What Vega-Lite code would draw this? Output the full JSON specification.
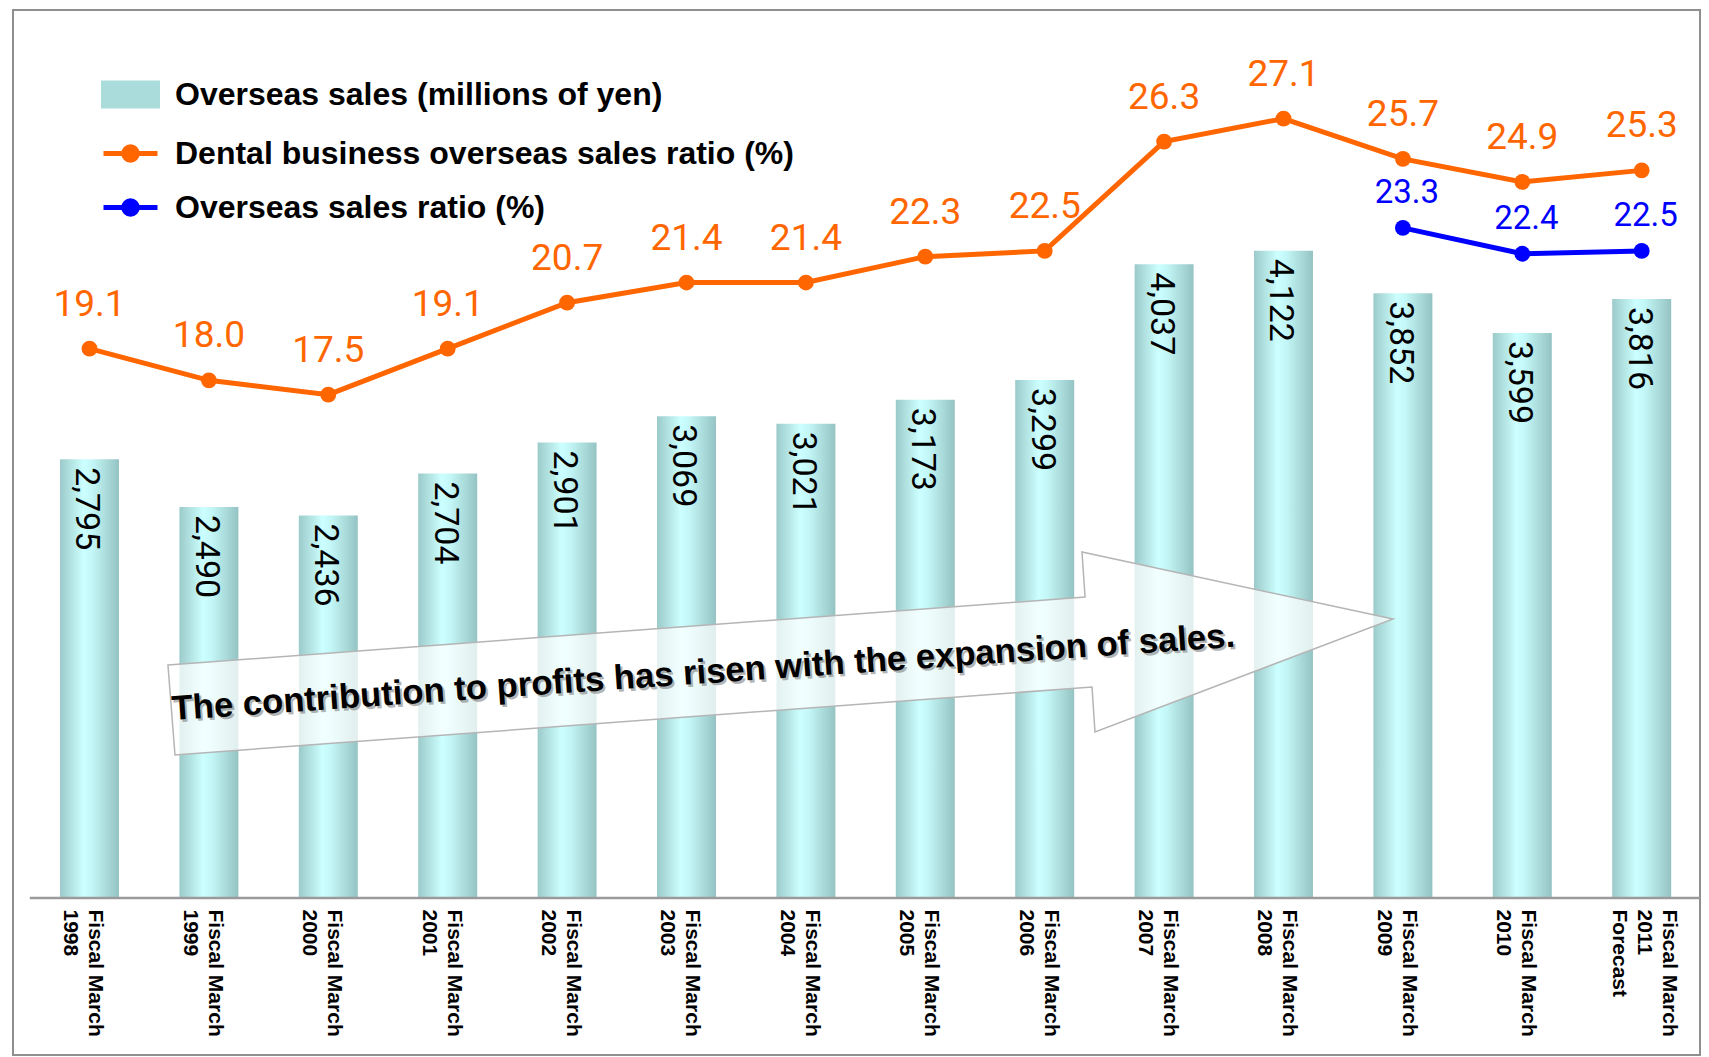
{
  "$schema": "https://vega.github.io/schema/vega-lite/v6.json",
  "width": 1687,
  "height": 1045,
  "padding": {"left": 13, "top": 10, "right": 9, "bottom": 2},
  "background": "white",
  "config": {"view": {"stroke": "#8f8f8f", "strokeWidth": 2}},
  "datasets": {
    "main": [
      {"period": "Fiscal March|1998", "sales": 2795, "dental": 19.1, "overseas": null},
      {"period": "Fiscal March|1999", "sales": 2490, "dental": 18.0, "overseas": null},
      {"period": "Fiscal March|2000", "sales": 2436, "dental": 17.5, "overseas": null},
      {"period": "Fiscal March|2001", "sales": 2704, "dental": 19.1, "overseas": null},
      {"period": "Fiscal March|2002", "sales": 2901, "dental": 20.7, "overseas": null},
      {"period": "Fiscal March|2003", "sales": 3069, "dental": 21.4, "overseas": null},
      {"period": "Fiscal March|2004", "sales": 3021, "dental": 21.4, "overseas": null},
      {"period": "Fiscal March|2005", "sales": 3173, "dental": 22.3, "overseas": null},
      {"period": "Fiscal March|2006", "sales": 3299, "dental": 22.5, "overseas": null},
      {"period": "Fiscal March|2007", "sales": 4037, "dental": 26.3, "overseas": null},
      {"period": "Fiscal March|2008", "sales": 4122, "dental": 27.1, "overseas": null},
      {"period": "Fiscal March|2009", "sales": 3852, "dental": 25.7, "overseas": 23.3},
      {"period": "Fiscal March|2010", "sales": 3599, "dental": 24.9, "overseas": 22.4},
      {"period": "Fiscal March|2011|Forecast", "sales": 3816, "dental": 25.3, "overseas": 22.5}
    ],
    "arrow": [
      {"order": 1, "x": 0.657, "y": 1484},
      {"order": 2, "x": 8.338, "y": 1917},
      {"order": 3, "x": 8.312, "y": 2204},
      {"order": 4, "x": 10.917, "y": 1777},
      {"order": 5, "x": 8.421, "y": 1057},
      {"order": 6, "x": 8.396, "y": 1344},
      {"order": 7, "x": 0.716, "y": 911}
    ],
    "note": [
      {"x": 5.147, "y": 1367, "text": "The contribution to profits has risen with the expansion of sales."}
    ]
  },
  "layer": [
    {
      "data": {"name": "main"},
      "resolve": {"scale": {"y": "independent"}},
      "layer": [
        {
          "mark": {"type": "bar", "color": {"gradient": "linear", "x1": 0, "y1": 0, "x2": 1, "y2": 0, "stops": [{"offset": 0, "color": "#9ccaca"}, {"offset": 0.4, "color": "#ccffff"}, {"offset": 0.55, "color": "#c3f6f6"}, {"offset": 1, "color": "#95c3c3"}]}},
          "encoding": {
            "x": {"field": "period", "type": "nominal", "scale": {"paddingInner": 0.506, "paddingOuter": 0.3175, "align": 0.62, "round": false},
              "axis": {"title": null, "domain": false, "ticks": false, "grid": false, "labelAngle": 90, "labelAlign": "left", "labelBaseline": "middle", "labelPadding": 11,
                "labelOffset": {"condition": {"test": "indexof(datum.value, 'Forecast') >= 0", "value": 27}, "value": 6},
                "labelFont": "Liberation Sans", "labelFontSize": 21, "labelFontWeight": "bold", "labelColor": "black", "labelLineHeight": 25, "labelLimit": 0, "labelOverlap": false, "offset": -157, "labelExpr": "split(datum.value, '|')"}},
            "y": {"field": "sales", "type": "quantitative", "scale": {"domain": [-1000, 5656], "nice": false, "zero": false}, "axis": null}
          }
        },
        {
          "mark": {"type": "text", "angle": 90, "align": "left", "baseline": "middle", "dx": 8, "dy": 3, "font": "Roboto", "fontSize": 34, "color": "black"},
          "encoding": {
            "x": {"field": "period", "type": "nominal"},
            "y": {"field": "sales", "type": "quantitative", "scale": {"domain": [-1000, 5656], "nice": false, "zero": false}, "axis": null},
            "text": {"field": "sales", "type": "quantitative", "format": ",d"}
          }
        },
        {
          "mark": {"type": "line", "strokeWidth": 5, "point": {"filled": true, "size": 250}},
          "encoding": {
            "x": {"field": "period", "type": "nominal"},
            "y": {"field": "dental", "type": "quantitative", "scale": {"domain": [-5.459, 30.876], "nice": false, "zero": false}, "axis": null},
            "color": {"datum": "Dental business overseas sales ratio (%)",
              "scale": {"domain": ["Overseas sales (millions of yen)", "Dental business overseas sales ratio (%)", "Overseas sales ratio (%)"], "range": ["#aadcdc", "#FF6600", "#0000FF"]},
              "legend": {
                "orient": "none", "legendX": 88, "legendY": 55, "title": null, "padding": 0,
                "symbolSize": 2916, "symbolStrokeWidth": 5,
                "labelFont": "Liberation Sans", "labelFontSize": 32, "labelFontWeight": "bold", "labelColor": "black", "labelLimit": 0, "labelOffset": 15, "rowPadding": 7,
                "encode": {
                  "symbols": {
                    "update": {
                      "shape": {"signal": "datum.value === 'Overseas sales (millions of yen)' ? 'M-1,-0.43H1V0.43H-1Z' : 'M-1,0H1M-0.25,0A0.25,0.25,0,1,0,0.25,0A0.25,0.25,0,1,0,-0.25,0Z'"},
                      "fill": {"signal": "datum.value === 'Overseas sales (millions of yen)' ? {gradient: 'linear', x1: 0, y1: 0, x2: 1, y2: 0, stops: [{offset: 0, color: '#9ccaca'}, {offset: 0.4, color: '#ccffff'}, {offset: 0.55, color: '#c3f6f6'}, {offset: 1, color: '#95c3c3'}]} : scale('color', datum.value)"},
                      "stroke": {"signal": "datum.value === 'Overseas sales (millions of yen)' ? 'transparent' : scale('color', datum.value)"},
                      "strokeWidth": {"value": 5},
                      "opacity": {"value": 1}
                    }
                  }
                }
              }
            }
          }
        },
        {
          "transform": [{"filter": "datum.overseas != null"}],
          "mark": {"type": "line", "strokeWidth": 5, "point": {"filled": true, "size": 250}},
          "encoding": {
            "x": {"field": "period", "type": "nominal"},
            "y": {"field": "overseas", "type": "quantitative", "scale": {"domain": [-5.459, 30.876], "nice": false, "zero": false}, "axis": null},
            "color": {"datum": "Overseas sales ratio (%)"}
          }
        },
        {
          "mark": {"type": "text", "align": "center", "baseline": "alphabetic", "dy": -33, "font": "Roboto", "fontSize": 37, "color": "#FF6600"},
          "encoding": {
            "x": {"field": "period", "type": "nominal"},
            "y": {"field": "dental", "type": "quantitative", "scale": {"domain": [-5.459, 30.876], "nice": false, "zero": false}, "axis": null},
            "text": {"field": "dental", "type": "quantitative", "format": ".1f"}
          }
        },
        {
          "transform": [{"filter": "datum.overseas != null"}],
          "mark": {"type": "text", "align": "center", "baseline": "alphabetic", "dx": 4, "dy": -25, "font": "Roboto", "fontSize": 33, "color": "#0000FF"},
          "encoding": {
            "x": {"field": "period", "type": "nominal"},
            "y": {"field": "overseas", "type": "quantitative", "scale": {"domain": [-5.459, 30.876], "nice": false, "zero": false}, "axis": null},
            "text": {"field": "overseas", "type": "quantitative", "format": ".1f"}
          }
        }
      ]
    },
    {
      "layer": [
        {
          "data": {"name": "arrow"},
          "mark": {"type": "line", "interpolate": "linear-closed", "fill": "white", "fillOpacity": 0.72, "stroke": "#b5b5b5", "strokeWidth": 1.5},
          "encoding": {
            "x": {"field": "x", "type": "quantitative", "scale": {"domain": [-0.6407, 13.488], "nice": false, "zero": false}, "axis": null},
            "y": {"field": "y", "type": "quantitative", "scale": {"domain": [-1000, 5656], "nice": false, "zero": false}, "axis": null},
            "order": {"field": "order", "type": "quantitative"}
          }
        },
        {
          "data": {"name": "note"},
          "mark": {"type": "text", "angle": -3.95, "align": "center", "baseline": "alphabetic", "dx": 2, "dy": 2.5, "font": "Liberation Sans", "fontWeight": "bold", "fontSize": 34.7, "color": "#777777", "opacity": 0.55},
          "encoding": {
            "x": {"field": "x", "type": "quantitative"},
            "y": {"field": "y", "type": "quantitative"},
            "text": {"field": "text", "type": "nominal"}
          }
        },
        {
          "data": {"name": "note"},
          "mark": {"type": "text", "angle": -3.95, "align": "center", "baseline": "alphabetic", "font": "Liberation Sans", "fontWeight": "bold", "fontSize": 34.7, "color": "black"},
          "encoding": {
            "x": {"field": "x", "type": "quantitative"},
            "y": {"field": "y", "type": "quantitative"},
            "text": {"field": "text", "type": "nominal"}
          }
        },
        {
          "data": {"values": [{}]},
          "mark": {"type": "rule", "color": "#9a9a9a", "strokeWidth": 2.5},
          "encoding": {
            "x": {"datum": -0.5, "type": "quantitative"},
            "x2": {"datum": 13.49},
            "y": {"datum": 0, "type": "quantitative"}
          }
        }
      ]
    }
  ],
  "resolve": {"scale": {"x": "independent", "y": "independent"}}
}
